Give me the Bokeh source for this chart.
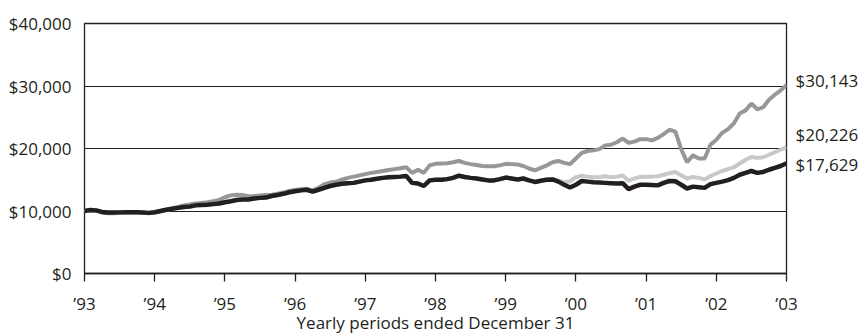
from bokeh.plotting import figure
from bokeh.models import FixedTicker, LinearAxis, Range1d
from bokeh.embed import file_html
from bokeh.resources import INLINE

# ---- data ----
start_year = 1993
n_months = 121
years = [start_year + i / 12 for i in range(n_months)]

tick_years = [1993, 1994, 1995, 1996, 1997, 1998, 1999, 2000, 2001, 2002, 2003]
tick_labels = ["\u201993", "\u201994", "\u201995", "\u201996", "\u201997", "\u201998",
               "\u201999", "\u201900", "\u201901", "\u201902", "\u201903"]
y_ticks = [0, 10000, 20000, 30000, 40000]
y_labels = ["$0", "$10,000", "$20,000", "$30,000", "$40,000"]

# mid gray series (ends $30,143)
series_a = [
    10000, 10100, 10050, 9750, 9650, 9650, 9700, 9750, 9800, 9750, 9700, 9650,
    9750, 9950, 10200, 10400, 10650, 10900, 11050, 11200, 11300, 11400, 11550, 11750,
    12200, 12500, 12600, 12550, 12350, 12400, 12500, 12550, 12600, 12750, 12950, 13200,
    13350, 13500, 13550, 13300, 13700, 14300, 14550, 14700, 15000, 15300, 15500, 15700,
    15900, 16100, 16250, 16400, 16550, 16700, 16850, 17000, 16100, 16600, 16100, 17300,
    17550, 17600, 17650, 17800, 18000, 17700, 17500, 17350, 17200, 17150, 17150, 17300,
    17550, 17500, 17450, 17200, 16800, 16500, 16900, 17300, 17800, 18000, 17700, 17500,
    18400, 19300, 19600, 19700, 19900, 20500, 20600, 21000, 21600, 20900, 21100, 21500,
    21500, 21300, 21700, 22300, 23000, 22700, 19900, 17800, 18900, 18400, 18400, 20600,
    21400, 22500, 23100, 24000, 25600, 26100, 27200, 26250, 26600, 27800, 28600, 29300,
    30143,
]

# light gray series (ends $20,226)
series_b = [
    10000, 10150, 10100, 9850, 9750, 9750, 9780, 9800, 9820, 9800, 9750, 9700,
    9800, 10000, 10200, 10350, 10500, 10650, 10700, 10900, 10950, 11000, 11100, 11200,
    11400, 11550, 11750, 11850, 11850, 12000, 12100, 12150, 12400, 12550, 12750, 13000,
    13170, 13300, 13400, 13100, 13400, 13700, 14000, 14200, 14350, 14450, 14500, 14700,
    14900, 15000, 15150, 15300, 15400, 15450, 15500, 15600, 14500, 14400, 14000, 14900,
    15000, 15000, 15100, 15300, 15650, 15450, 15300, 15200, 15050, 14900, 14900, 15100,
    15350, 15200, 15050, 15200, 14900, 14650, 14850, 15050, 15100, 14900, 14600, 14750,
    15400, 15650, 15500, 15400, 15450, 15550, 15400, 15500, 15700, 14850, 15200, 15450,
    15500, 15500, 15550, 15800, 16050, 16250, 15700, 15200, 15450, 15300, 15050, 15600,
    16000, 16400, 16700, 17000, 17600, 18200, 18650, 18500, 18600, 19000, 19400, 19800,
    20226,
]

# black series (ends $17,629)
series_c = [
    10000, 10150, 10100, 9850, 9750, 9750, 9780, 9800, 9820, 9800, 9750, 9700,
    9800, 10000, 10200, 10350, 10500, 10650, 10700, 10900, 10950, 11000, 11100, 11200,
    11400, 11550, 11750, 11850, 11850, 12000, 12100, 12150, 12400, 12550, 12750, 13000,
    13170, 13300, 13400, 13100, 13400, 13700, 14000, 14200, 14350, 14450, 14500, 14700,
    14900, 15000, 15150, 15300, 15400, 15450, 15500, 15600, 14500, 14400, 14000, 14900,
    15000, 15000, 15100, 15300, 15650, 15450, 15300, 15200, 15050, 14900, 14900, 15100,
    15350, 15200, 15050, 15200, 14900, 14650, 14850, 15000, 15050, 14700, 14200, 13750,
    14200, 14800, 14700, 14600, 14550, 14500, 14450, 14400, 14450, 13500, 13900, 14200,
    14200, 14150, 14100, 14500, 14800, 14750, 14200, 13600, 13900, 13800, 13700, 14300,
    14500, 14700, 14950, 15300, 15800, 16100, 16400, 16100, 16250, 16600, 16900, 17200,
    17629,
]

end_labels = ["$30,143", "$20,226", "$17,629"]
end_values = [series_a[-1], series_b[-1], series_c[-1]]

x_title = "Yearly periods ended December 31"

# ---- styling ----
FONT = "Open Sans"
FS = "17px"
BLACK = "#231f20"
MID = "#979797"
LIGHT = "#c8c8c8"
# vertical nudges of the end labels (data units) so they do not collide
label_nudge = [800, 2000, -150]

p = figure(width=861, height=336, output_backend="svg", toolbar_location=None,
           x_range=Range1d(1993, 2003), y_range=Range1d(0, 40000),
           min_border_left=84, min_border_right=70, min_border_top=23,
           min_border_bottom=40)
p.background_fill_color = "white"
p.border_fill_color = "white"
p.outline_line_color = BLACK
p.outline_line_width = 1.3

p.line(years, series_b, line_color=LIGHT, line_width=4)
p.line(years, series_a, line_color=MID, line_width=4)
p.line(years, series_c, line_color=BLACK, line_width=4.5)

# x axis
p.xaxis.ticker = FixedTicker(ticks=tick_years)
p.xaxis.major_label_overrides = {y: l for y, l in zip(tick_years, tick_labels)}
p.xaxis.minor_tick_line_color = None
p.xaxis.major_tick_in = 0
p.xaxis.major_tick_out = 8
p.xaxis.major_tick_line_color = BLACK
p.xaxis.major_tick_line_width = 1.3
p.xaxis.axis_line_color = BLACK
p.xaxis.axis_line_width = 1.3
p.xaxis.major_label_text_font = FONT
p.xaxis.major_label_text_font_size = FS
p.xaxis.major_label_text_color = BLACK
p.xaxis.major_label_standoff = 10
p.xaxis.axis_label = x_title
p.xaxis.axis_label_text_font = FONT
p.xaxis.axis_label_text_font_size = FS
p.xaxis.axis_label_text_font_style = "normal"
p.xaxis.axis_label_text_color = BLACK
p.xaxis.axis_label_text_baseline = "top"
p.xaxis.axis_label_standoff = -7

# left y axis
p.yaxis.ticker = FixedTicker(ticks=y_ticks)
p.yaxis.major_label_overrides = {v: l for v, l in zip(y_ticks, y_labels)}
p.yaxis.minor_tick_line_color = None
p.yaxis.major_tick_line_color = None
p.yaxis.axis_line_color = None
p.yaxis.major_label_text_font = FONT
p.yaxis.major_label_text_font_size = FS
p.yaxis.major_label_text_color = BLACK
p.yaxis.major_label_standoff = 7

p.xgrid.grid_line_color = None
p.ygrid.grid_line_color = BLACK
p.ygrid.grid_line_width = 1

# right axis carrying the ending values
end_ticks = [int(v + n) for v, n in zip(end_values, label_nudge)]
right = LinearAxis(ticker=FixedTicker(ticks=end_ticks),
                   major_label_overrides={t: l for t, l in zip(end_ticks, end_labels)})
right.axis_line_color = None
right.major_tick_line_color = None
right.minor_tick_line_color = None
right.major_label_text_font = FONT
right.major_label_text_font_size = FS
right.major_label_text_color = BLACK
right.major_label_standoff = 3
p.add_layout(right, "right")

open("out.html", "w").write(file_html(p, INLINE))
